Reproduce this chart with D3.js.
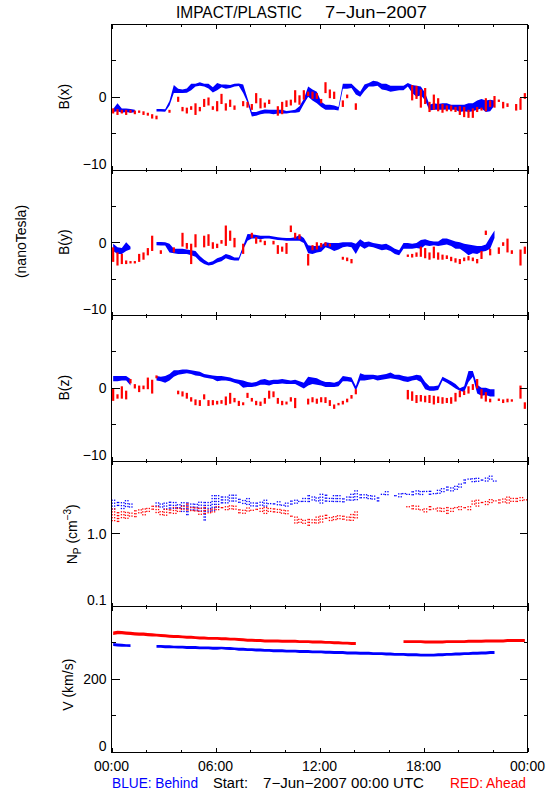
<!DOCTYPE html>
<html><head><meta charset="utf-8">
<script src="https://cdn.jsdelivr.net/npm/d3@7"></script>
<style>
body{margin:0;background:#fff}
svg{display:block}
text{font-family:"Liberation Sans",Arial,sans-serif;fill:#000}
</style>
</head><body><svg id="c" width="550" height="800"></svg>
<script>
// ---------------- DATA (15-minute bins, [low, high] per bin; null = no data) ----------------
const slotHours = d3.range(96).map(i => i * 0.25);
const hourTicks = [0, 6, 12, 18, 24];
const hourMinorTicks = [2, 4, 8, 10, 14, 16, 20, 22];
const hourLabels = ["00:00", "06:00", "12:00", "18:00", "00:00"];

const bxBehind = [
[-2.1,-1.7],[-2.0,-0.9],[-2.2,-1.6],[-2.1,-1.6],[-2.2,-1.7],[-2.1,-1.8],null,null,null,null,
[-2.0,-1.7],[-2.0,-1.7],[-2.0,-1.8],[-1.2,-0.6],[0.5,1.6],[0.5,1.1],[0.5,1.0],[0.55,1.15],[0.9,1.8],[1.4,1.8],
[1.5,2.0],[1.4,1.8],[1.15,1.8],[0.6,1.3],[0.9,1.9],[1.3,1.7],[1.1,1.7],[1.2,1.6],[1.4,1.8],[1.5,1.8],
[0.5,1.7],[-0.8,-0.2],[-2.7,-2.1],[-2.6,-2.1],[-2.4,-1.9],[-2.3,-1.75],[-2.3,-1.8],[-2.4,-1.8],[-2.3,-1.8],[-2.3,-1.8],
[-2.3,-1.95],[-2.2,-1.9],[-2.2,-1.8],[-2.1,-1.3],[-1.0,-0.3],[0.0,1.4],[-0.5,1.0],[-0.9,0.7],[-1.4,-0.7],[-1.8,-1.1],
[-1.8,-1.1],[-1.8,-1.2],[-1.9,-1.4],[1.1,1.8],[1.1,1.8],[1.2,1.8],[0.3,1.2],[0.0,0.7],[0.8,1.7],[1.4,1.9],
[1.4,2.2],[1.5,2.1],[1.0,1.8],[0.9,1.8],[0.7,1.5],[0.8,1.5],[0.9,1.5],[0.9,1.5],[1.4,1.9],[0.5,1.6],
[0.0,1.5],[0.2,1.4],[-0.5,0.5],[-1.9,-1.1],[-1.8,-0.9],[-1.8,-1.0],[-1.8,-0.9],[-1.75,-0.9],[-1.8,-1.1],[-1.8,-1.1],
[-2.1,-1.1],[-2.0,-1.1],[-2.1,-0.9],[-2.0,-0.9],[-1.8,-0.5],[-1.6,-0.3],[-2.1,-0.5],[-2.0,-0.4],[-1.2,-0.5],null,
null,null,null,null,null,null];
const bxAhead = [
[-2.3,-1.6],[-2.5,-1.7],[-2.3,-1.8],[-2.5,-1.8],[-2.2,-1.8],[-2.4,-1.9],[-2.2,-1.9],[-2.5,-2.0],[-2.6,-2.2],[-3.0,-2.4],
[-3.1,-2.6],null,null,[-2.2,-1.8],null,[-0.7,0.0],[-2.0,-1.4],[-2.3,-1.5],[-1.8,-1.3],[-2.5,-0.9],
[-2.0,-1.4],[-1.4,-0.3],[-1.2,-0.1],[-1.8,-1.3],[-2.0,-0.6],[-1.0,0.4],[-1.9,-0.9],[-1.4,-0.4],[-1.8,-1.2],null,
[-1.3,-0.6],[-1.5,-0.7],[-1.8,-1.0],[-0.9,0.5],[-1.6,-0.2],[-1.5,-0.8],[-1.0,-0.4],null,[-2.6,-1.3],[-2.4,-0.7],
[-1.4,-0.5],[-1.2,-0.4],[-0.8,0.9],[-1.1,0.2],[-0.4,0.9],[0.1,0.7],[-0.3,0.7],[-0.3,0.5],[-0.9,-0.3],[0.5,2.0],
[-0.2,1.0],[-0.3,0.7],null,[-1.4,-0.5],[-0.2,0.3],null,[-1.8,-0.9],null,null,null,
null,null,null,null,null,null,null,null,null,[-0.5,1.6],
[-0.3,1.5],[-1.5,1.0],[-1.0,1.2],[-2.1,-0.7],[-1.8,0.3],[-2.0,-0.2],[-2.2,-1.0],[-2.0,-1.2],[-2.0,-1.2],[-2.1,-1.4],
[-2.5,-1.3],[-2.8,-1.4],[-2.9,-1.8],[-2.9,-1.6],[-2.1,-1.4],[-1.9,-1.5],[-2.0,-0.2],[-1.4,-0.5],[-1.5,0.1],[-0.7,-0.4],
[-1.6,-0.7],[-1.4,-0.9],null,[-1.9,-1.0],[-1.8,-0.2],[-0.3,0.5]];

const byBehind = [
[-1.2,-0.2],[-1.6,-0.7],[-1.6,-0.8],[-1.2,0.0],[-0.9,-0.7],null,null,null,null,null,
[-0.4,0.05],[-0.45,0.05],[-0.45,0.0],[-1.4,-0.2],[-1.5,-0.9],[-1.6,-0.9],[-1.6,-0.9],[-1.6,-1.0],[-1.8,-1.1],[-2.0,-1.2],
[-2.6,-1.9],[-3.0,-2.4],[-3.2,-2.8],[-3.1,-2.6],[-2.8,-2.2],[-2.6,-2.0],[-2.2,-1.6],[-2.4,-1.8],[-2.5,-2.1],[-2.5,-2.1],
[-1.0,-0.5],[0.2,1.15],[0.5,1.1],[0.5,1.0],[0.4,0.9],[0.5,0.9],[0.5,0.9],[0.4,0.8],[0.3,0.7],[0.3,0.6],
[0.2,0.6],[0.2,0.6],[0.2,0.7],[0.2,1.0],[-0.1,0.6],[-1.5,-0.4],[-1.6,-0.5],[-1.4,-0.5],[-1.3,-0.4],[-0.7,0.0],
[-0.9,-0.1],[-1.2,-0.1],[-1.0,-0.1],[-0.7,0.0],[-0.6,0.0],[-0.7,0.0],[-1.6,-0.2],[-0.5,0.4],[-0.9,0.0],[-0.6,0.1],
[-0.7,-0.1],[-0.9,-0.2],[-1.1,-0.3],[-1.0,-0.2],[-1.2,-0.5],[-1.6,-0.9],[-1.8,-1.1],[-0.9,-0.1],[-0.9,-0.1],[-0.9,-0.2],
[-0.8,-0.1],[-0.9,0.3],[-0.4,0.4],[-0.5,0.2],[-0.4,0.1],[-0.5,0.1],[-0.4,0.5],[-0.3,0.5],[-0.5,0.3],[-0.9,0.1],
[-0.9,0.0],[-1.3,-0.2],[-1.8,-0.3],[-1.5,-0.4],[-1.6,-0.5],[-1.3,-0.5],[-1.2,-0.3],[-0.9,0.7],[0.6,1.6],null,
null,null,null,null,null,null];
const byAhead = [
[-2.7,-0.7],[-3.2,-1.4],[-3.0,-1.6],[-3.0,-2.5],[-2.9,-2.6],[-2.9,-2.6],[-2.7,-1.6],[-2.4,-1.4],[-1.8,-0.8],[-1.2,0.9],
null,[-1.6,-1.1],null,null,[-1.4,-0.7],null,[-0.6,1.3],[-0.9,-0.1],[-3.0,-0.2],[-0.7,1.1],
null,[-0.7,0.9],[-0.5,1.1],[-0.9,0.0],[-0.8,-0.2],[-0.2,0.3],[-0.5,2.3],[0.2,1.6],[-0.7,0.6],null,
[-1.6,-0.2],null,[0.6,1.3],[-0.2,0.7],[0.0,0.4],[-0.4,0.2],null,[-0.3,0.2],[-1.6,-0.4],[-1.3,-0.6],
[-1.6,-0.1],[1.4,2.3],[0.5,1.3],[0.4,1.1],null,[-3.2,-1.6],[-1.1,-0.4],[-1.0,0.0],[-0.7,-0.1],[-0.5,0.0],
[-0.6,-0.2],null,null,[-2.4,-2.0],[-2.6,-2.1],[-2.9,-2.3],null,null,null,null,
null,null,null,null,null,null,null,null,[-2.0,-1.7],[-2.1,-1.6],
[-2.0,-1.4],[-2.0,-0.6],[-2.2,-0.8],[-2.4,-1.4],[-2.2,-0.6],[-2.4,-1.4],[-2.4,-1.7],[-2.3,-1.8],[-2.6,-2.0],[-2.8,-2.2],
[-3.0,-2.3],[-2.6,-2.1],[-2.5,-1.9],[-2.6,-2.1],[-2.9,-2.3],[-2.3,-1.2],[1.0,1.6],[-1.8,-0.9],null,[-1.6,-0.7],
[-0.5,0.0],[-1.4,0.5],[-1.6,-1.1],null,[-3.2,-1.0],[-1.6,-0.6]];

const bzBehind = [
[0.9,1.6],[0.9,1.6],[1.0,1.6],[1.0,1.6],[0.3,1.2],null,null,null,null,null,
[1.0,1.6],[0.9,1.5],[0.7,1.6],[1.0,1.9],[1.5,2.4],[1.8,2.4],[1.9,2.5],[2.0,2.5],[1.9,2.4],[1.7,2.3],
[1.6,2.2],[1.4,1.9],[1.3,1.8],[1.2,1.7],[0.9,1.6],[1.0,1.6],[1.0,1.5],[0.9,1.4],[0.7,1.2],[0.5,1.1],
[0.0,1.0],[0.1,0.8],[0.1,0.7],[0.2,0.8],[0.4,1.1],[0.4,1.2],[0.3,1.0],[0.5,1.1],[0.5,1.1],[0.6,1.2],
[0.5,1.1],[0.5,1.0],[0.5,1.1],[0.2,0.9],[-0.1,0.7],[0.3,1.5],[0.5,1.4],[0.4,1.3],[0.3,1.0],[0.1,0.8],
[0.1,0.8],[0.1,0.7],[0.2,0.9],[0.9,1.6],[0.9,1.5],[0.8,1.4],[-0.4,0.2],[1.0,2.0],[1.0,1.8],[1.1,1.8],
[1.2,1.8],[1.0,1.7],[1.1,1.8],[1.2,1.9],[1.3,2.1],[1.2,1.8],[1.1,1.8],[0.9,1.6],[0.8,1.5],[1.0,1.6],
[1.1,1.8],[0.8,1.7],[-0.2,0.8],[-0.4,0.2],[-0.4,0.2],[-0.3,0.3],[1.0,1.5],[0.7,1.2],[0.3,0.9],[-0.1,0.5],
[-0.4,-0.1],[-0.6,0.2],[0.8,2.3],[1.5,2.3],[-0.8,0.4],[-1.1,0.0],[-1.0,0.0],[-1.2,-0.2],[-1.2,-0.2],null,
null,null,null,null,null,null];
const bzAhead = [
[-1.8,-0.1],[-1.5,-0.9],[-1.5,0.2],[-1.6,-0.4],[0.6,1.2],[-0.1,0.5],[-0.6,0.3],[-0.2,0.3],[-0.2,1.4],[-0.8,1.1],
[1.3,1.7],null,null,null,null,[-0.9,-0.4],[-1.2,-0.5],[-1.5,-0.7],[-1.9,-1.3],[-2.4,-1.6],
[-2.5,-1.7],[-1.6,-0.9],[-2.5,-1.7],[-2.4,-1.7],[-2.3,-1.8],[-2.2,-1.7],[-2.4,-1.2],[-2.2,-0.7],[-2.0,-1.4],[-2.5,-1.8],
[-2.4,-2.0],[-1.4,-0.7],[-1.9,-1.4],[-2.4,-1.8],[-2.5,-1.9],[-2.2,-1.4],[-1.5,-0.4],[-1.3,-0.5],[-2.2,-1.4],[-2.4,-1.8],
[-2.3,-1.9],[-1.9,-1.3],[-2.8,-1.4],null,null,[-2.3,-1.5],[-2.0,-1.3],[-2.2,-1.5],[-2.0,-1.3],[-2.1,-1.3],
[-2.5,-1.7],[-2.9,-2.3],[-2.4,-2.1],[-2.3,-1.8],[-2.0,-1.5],[-1.5,-1.0],[-0.9,-0.2],null,null,null,
null,null,null,null,null,null,null,null,[-1.6,-0.3],[-1.8,-0.5],
[-2.1,-1.0],[-1.9,-1.0],[-2.0,-1.1],[-2.1,-1.0],[-2.3,-1.1],[-2.1,-1.2],[-2.2,-1.3],[-2.1,-1.4],[-2.2,-1.3],[-1.9,-0.7],
[-1.3,-0.4],[-1.0,-0.4],[-0.8,0.2],[-0.3,0.5],[-0.1,1.2],[-1.5,-0.2],[-1.9,-0.6],[-2.0,-1.5],null,[-1.8,-1.5],
[-2.1,-1.6],[-2.0,-1.5],[-1.9,-1.6],null,[-1.5,0.3],[-2.9,-2.0]];

const npBehind = [
[2.2,2.9],[2.3,2.9],[2.2,2.8],[2.3,2.9],[2.3,2.8],null,null,null,null,null,
[2.3,2.7],[2.3,2.8],[2.2,2.8],[2.2,2.8],[2.2,2.7],[2.1,2.7],[2.0,2.8],[1.8,2.7],[2.1,2.8],[2.0,2.7],
[1.9,2.8],[1.5,2.7],[2.0,2.9],[2.1,3.5],[2.3,3.4],[2.6,3.5],[2.6,3.4],[2.6,3.5],[2.6,3.4],[2.5,3.2],
[2.4,3.0],[2.4,3.1],[2.3,2.9],[2.3,2.8],[2.3,2.8],[2.4,2.9],[2.4,2.8],[2.4,2.7],[2.3,2.8],[2.4,2.7],
[2.4,2.8],[2.5,2.9],[2.6,2.9],[2.7,3.0],[2.6,3.2],[2.6,3.4],[2.7,3.5],[2.6,3.3],[2.6,3.6],[2.6,3.4],
[2.7,3.3],[2.6,3.5],[2.6,3.4],[2.6,3.3],[2.7,3.4],[2.7,3.6],[2.9,3.9],[3.0,3.7],[2.9,3.6],[2.8,3.4],
[3.0,3.6],[2.8,3.3],[3.2,3.6],[3.4,3.8],[3.4,3.6],[3.3,3.5],[3.2,3.6],[3.4,3.9],[3.3,3.7],[3.4,3.9],
[3.5,3.9],[3.4,4.1],[3.5,4.0],[3.4,3.9],[3.5,3.9],[3.6,4.2],[3.6,4.3],[3.8,4.4],[3.9,4.6],[4.0,4.7],
[4.2,4.9],[4.9,6.0],[5.2,6.0],[5.0,5.9],[4.9,5.8],[5.1,5.9],[5.3,6.1],[5.5,6.3],[5.1,5.8],null,
null,null,null,null,null,null];
const npAhead = [
[1.5,2.2],[1.45,2.1],[1.6,2.1],[1.6,2.0],[1.7,2.1],[1.7,2.2],[1.8,2.2],[1.75,2.2],[1.9,2.4],[2.0,2.5],
[1.9,2.4],[1.8,2.2],[1.8,2.3],[1.8,2.2],[1.9,2.3],[2.0,2.4],[2.1,2.5],[2.1,2.6],[2.0,2.5],[1.9,2.4],
[1.8,2.3],[1.8,2.3],[1.9,2.3],[1.9,2.3],[2.0,2.4],[2.1,2.5],[2.1,2.5],[2.1,2.5],[2.0,2.4],[1.9,2.3],
[1.9,2.2],[1.9,2.3],[2.0,2.3],[2.0,2.3],[2.0,2.3],[1.9,2.3],[2.0,2.4],[2.0,2.3],[1.9,2.2],[1.9,2.3],
[1.8,2.2],[1.6,1.8],[1.4,1.7],[1.4,1.7],[1.35,1.6],[1.3,1.6],[1.4,1.7],[1.4,1.8],[1.4,1.8],[1.5,1.8],
[1.5,1.8],[1.5,1.8],[1.5,1.8],[1.5,1.9],[1.5,1.8],[1.5,1.9],[1.6,2.0],null,null,null,
null,null,null,null,null,null,null,[2.1,2.2],[2.2,2.5],[2.1,2.5],
[2.1,2.4],[2.0,2.3],[2.0,2.3],[2.0,2.4],[2.1,2.4],[2.0,2.4],[2.0,2.3],[1.9,2.3],[2.0,2.4],[2.1,2.4],
[2.1,2.4],[2.1,2.5],[2.1,2.5],[2.4,2.9],[2.4,2.9],[2.5,2.9],[2.5,2.9],[2.5,3.0],[2.6,3.1],[2.6,3.1],
[2.7,3.1],[2.6,3.2],[2.7,3.3],[2.6,3.2],[2.7,3.2],[2.7,3.2]];

const vBehind = [
[290,298],[289,297],[288,296],[288,295],[287,295],null,null,null,null,null,
[285,293],[285,293],[284,292],[284,292],[284,291],[283,291],[283,291],[282,290],[282,290],[282,290],
[281,289],[281,289],[281,289],[280,288],[280,288],[281,288],[280,287],[279,287],[279,286],[277,285],
[277,285],[276,284],[276,284],[275,283],[275,283],[274,282],[274,282],[273,281],[273,281],[273,281],
[272,280],[272,280],[272,280],[271,279],[271,279],[271,279],[270,278],[270,278],[270,278],[269,277],
[269,277],[268,276],[268,276],[268,276],[267,275],[267,275],[267,275],[266,274],[266,274],[266,274],
[265,273],[265,273],[265,273],[264,272],[264,272],[263,271],[263,271],[263,271],[262,270],[262,270],
[262,270],[261,269],[261,269],[261,269],[261,269],[262,270],[262,270],[263,271],[263,271],[264,272],
[264,272],[265,273],[265,273],[266,274],[266,274],[267,275],[267,275],[268,276],[268,276],null,
null,null,null,null,null,null];
const vAhead = [
[320,330],[322,332],[322,331],[321,330],[320,329],[319,328],[318,327],[318,327],[317,326],[316,325],
[316,324],[315,323],[314,322],[313,321],[312,320],[312,320],[311,319],[310,318],[310,318],[309,317],
[308,316],[308,316],[307,315],[307,315],[307,315],[306,314],[306,314],[305,313],[305,313],[304,312],
[303,311],[302,310],[302,310],[301,309],[301,309],[300,308],[300,308],[300,308],[300,308],[299,307],
[299,307],[299,307],[299,307],[298,306],[298,306],[298,306],[297,305],[297,305],[297,305],[296,304],
[296,304],[295,303],[295,303],[294,302],[294,302],[293,301],[293,301],null,null,null,
null,null,null,null,null,null,null,[298,306],[298,306],[298,306],
[298,306],[298,306],[297,305],[297,305],[297,305],[297,305],[297,305],[298,306],[298,306],[298,306],
[298,306],[298,306],[299,307],[299,307],[299,307],[299,307],[300,308],[300,308],[300,308],[300,308],
[300,308],[301,309],[301,309],[301,309],[301,309],[301,309]];

// ---------------- CHART ----------------
const BLUE = "#0000ff", RED = "#ff0000";
const FONT = '"Liberation Sans",Arial,sans-serif';
const svg = d3.select("#c");
const x = d3.scaleLinear().domain([0, 24]).range([111, 527]);
const slotW = 0.25;
const panelTops = [24, 169.5, 315, 460.5, 606];
const ph = 145.5;

const panels = [
  {label:"B(x)", behind:bxBehind, ahead:bxAhead, log:false, domain:[-10,10], major:[-10,0,10], minor:[-5,5], labels:{"-10":"−10","0":"0"}, kind:"band"},
  {label:"B(y)", behind:byBehind, ahead:byAhead, log:false, domain:[-10,10], major:[-10,0,10], minor:[-5,5], labels:{"-10":"−10","0":"0"}, kind:"band"},
  {label:"B(z)", behind:bzBehind, ahead:bzAhead, log:false, domain:[-10,10], major:[-10,0,10], minor:[-5,5], labels:{"-10":"−10","0":"0"}, kind:"band"},
  {label:"Np", behind:npBehind, ahead:npAhead, log:true, domain:[0.1,10], major:[0.1,1,10], minor:[], labels:{"0.1":"0.1","1":"1.0"}, kind:"dots"},
  {label:"V (km/s)", behind:vBehind, ahead:vAhead, log:false, domain:[0,400], major:[0,200,400], minor:[100,300], labels:{"0":"0","200":"200"}, kind:"band"}
];

panels.forEach((p, k) => {
  const top = panelTops[k], bot = top + ph;
  const y = (p.log ? d3.scaleLog() : d3.scaleLinear()).domain(p.domain).range([bot, top]);
  const g = svg.append("g");
  const clipId = "clip" + k;
  svg.append("clipPath").attr("id", clipId).append("rect")
    .attr("x", x(0)).attr("y", top).attr("width", x(24) - x(0)).attr("height", ph);
  const data = g.append("g").attr("clip-path", `url(#${clipId})`);

  const rows = s => slotHours.map((t, i) => ({t, i, v: s[i]}));

  if (p.kind === "band") {
    const minT = k === 4 ? 1.8 : 2.4;
    const pix = d => {
      let t1 = y(d.v[1]), t0 = y(d.v[0]);
      if (t0 - t1 < minT) { const m = (t0 + t1) / 2; t1 = m - minT / 2; t0 = m + minT / 2; }
      return [t0, t1];
    };
    const area = d3.area()
      .defined(d => d.v != null)
      .x(d => x(d.t + slotW / 2))
      .y0(d => pix(d)[0]).y1(d => pix(d)[1]);
    data.append("path").datum(rows(p.behind)).attr("d", area).attr("fill", BLUE);
    if (k === 4) {
      data.append("path").datum(rows(p.ahead)).attr("d", area).attr("fill", RED);
    } else {
      data.selectAll("rect.a").data(rows(p.ahead).filter(d => d.v != null)).join("rect")
        .attr("x", d => x(d.t + slotW / 2) - 1.1).attr("width", 2.2)
        .attr("y", d => pix(d)[1]).attr("height", d => pix(d)[0] - pix(d)[1])
        .attr("fill", RED);
    }
  } else {
    const dots = (series, color) => {
      const pts = [];
      rows(series).filter(d => d.v != null).forEach(d => {
        const yTop = y(d.v[1]), yBot = y(d.v[0]);
        [0, 1].forEach(c => {
          const xx = x(d.t) + 0.5 + c * 2.2 + ((d.i * 3 + c * 5) % 4) * 0.3;
          for (let yy = yTop + ((d.i * 5 + c * 7) % 7) * 0.45; yy <= yBot; yy += 2.9) pts.push([xx, yy]);
        });
      });
      data.append("g").selectAll("rect").data(pts).join("rect")
        .attr("x", d => d[0]).attr("y", d => d[1]).attr("width", 1.3).attr("height", 1.3)
        .attr("fill", color);
    };
    dots(p.behind, BLUE);
    dots(p.ahead, RED);
  }

  // frame
  g.append("rect").attr("x", x(0) + 0.5).attr("y", top + 0.5).attr("width", x(24) - x(0)).attr("height", ph)
    .attr("fill", "none").attr("stroke", "#000").attr("stroke-width", 1).attr("shape-rendering", "crispEdges");

  // y axes (left with labels, right without), ticks pointing inward
  const yl = g.append("g").attr("transform", `translate(${x(0) + 0.5},0)`)
    .call(d3.axisLeft(y).tickValues(p.major).tickSize(-8).tickSizeOuter(0).tickPadding(5)
      .tickFormat(v => p.labels[String(+v.toFixed(3))] || ""));
  g.append("g").attr("transform", `translate(${x(0) + 0.5},0)`)
    .call(d3.axisLeft(y).tickValues(p.minor).tickSize(-4).tickSizeOuter(0).tickFormat(""));
  g.append("g").attr("transform", `translate(${x(24) + 0.5},0)`)
    .call(d3.axisRight(y).tickValues(p.major).tickSize(-8).tickSizeOuter(0).tickFormat(""));
  g.append("g").attr("transform", `translate(${x(24) + 0.5},0)`)
    .call(d3.axisRight(y).tickValues(p.minor).tickSize(-4).tickSizeOuter(0).tickFormat(""));

  // x axes top/bottom
  [[top + 0.5, d3.axisTop], [bot + 0.5, d3.axisBottom]].forEach(([yy, ax]) => {
    g.append("g").attr("transform", `translate(0.5,${yy})`)
      .call(ax(x).tickValues(hourTicks).tickSize(-4).tickSizeOuter(0).tickFormat(""));
    g.append("g").attr("transform", `translate(0.5,${yy})`)
      .call(ax(x).tickValues(hourMinorTicks).tickSize(-2).tickSizeOuter(0).tickFormat(""));
  });
  if (k === 4) {
    const xb = g.append("g").attr("transform", `translate(0,${bot})`)
      .call(d3.axisBottom(x).tickValues(hourTicks).tickSize(0).tickFormat((v, i) => hourLabels[i]));
    xb.select(".domain").remove();
    xb.selectAll("text").attr("y", 19).attr("dy", 0).attr("font-size", 14)
      .attr("font-family", FONT).attr("fill", "#000");
  }
  g.selectAll(".domain").attr("stroke", "none");
  g.selectAll(".tick line").attr("stroke", "#000").attr("shape-rendering", "crispEdges");
  // labels: bottom label sits just above its tick, the others are centred on theirs
  yl.selectAll("text").attr("font-size", 14).attr("font-family", FONT).attr("fill", "#000")
    .attr("dy", v => (Math.abs(v - p.domain[0]) < 1e-9 ? "-0.1em" : "0.36em"));

  // y titles
  const cy = top + ph / 2;
  if (k < 3) {
    svg.append("text").attr("transform", `translate(68.5,${cy}) rotate(-90)`)
      .attr("text-anchor", "middle").attr("font-size", 14).text(p.label);
  } else if (k === 3) {
    const t = svg.append("text").attr("transform", `translate(77,${cy + 1}) rotate(-90)`)
      .attr("text-anchor", "middle").attr("font-size", 14);
    t.append("tspan").text("N");
    t.append("tspan").attr("font-size", 10).attr("dy", 4).text("P");
    t.append("tspan").attr("dy", -4).text(" (cm");
    t.append("tspan").attr("font-size", 10).attr("dy", -6).text("−3");
    t.append("tspan").attr("dy", 6).text(")");
  } else {
    svg.append("text").attr("transform", `translate(73,${cy + 6}) rotate(-90)`)
      .attr("text-anchor", "middle").attr("font-size", 14).text(p.label);
  }
});

svg.append("text").attr("transform", "translate(25.5,241.5) rotate(-90)")
  .attr("text-anchor", "middle").attr("font-size", 14).text("(nanoTesla)");

// title
svg.append("text").attr("x", 176).attr("y", 18).attr("font-size", 16)
  .attr("textLength", 126).attr("lengthAdjust", "spacingAndGlyphs").text("IMPACT/PLASTIC");
svg.append("text").attr("x", 325).attr("y", 18).attr("font-size", 16)
  .attr("textLength", 102).attr("lengthAdjust", "spacingAndGlyphs").text("7−Jun−2007");

// footer
svg.append("text").attr("x", 112).attr("y", 788).attr("font-size", 14).style("fill", BLUE)
  .attr("textLength", 86).attr("lengthAdjust", "spacingAndGlyphs").text("BLUE: Behind");
svg.append("text").attr("x", 213).attr("y", 788).attr("font-size", 14)
  .attr("textLength", 35).attr("lengthAdjust", "spacingAndGlyphs").text("Start:");
svg.append("text").attr("x", 263).attr("y", 788).attr("font-size", 14)
  .attr("textLength", 161).attr("lengthAdjust", "spacingAndGlyphs").text("7−Jun−2007 00:00 UTC");
svg.append("text").attr("x", 450).attr("y", 788).attr("font-size", 14).style("fill", RED)
  .attr("textLength", 76).attr("lengthAdjust", "spacingAndGlyphs").text("RED: Ahead");
</script>
</body></html>
